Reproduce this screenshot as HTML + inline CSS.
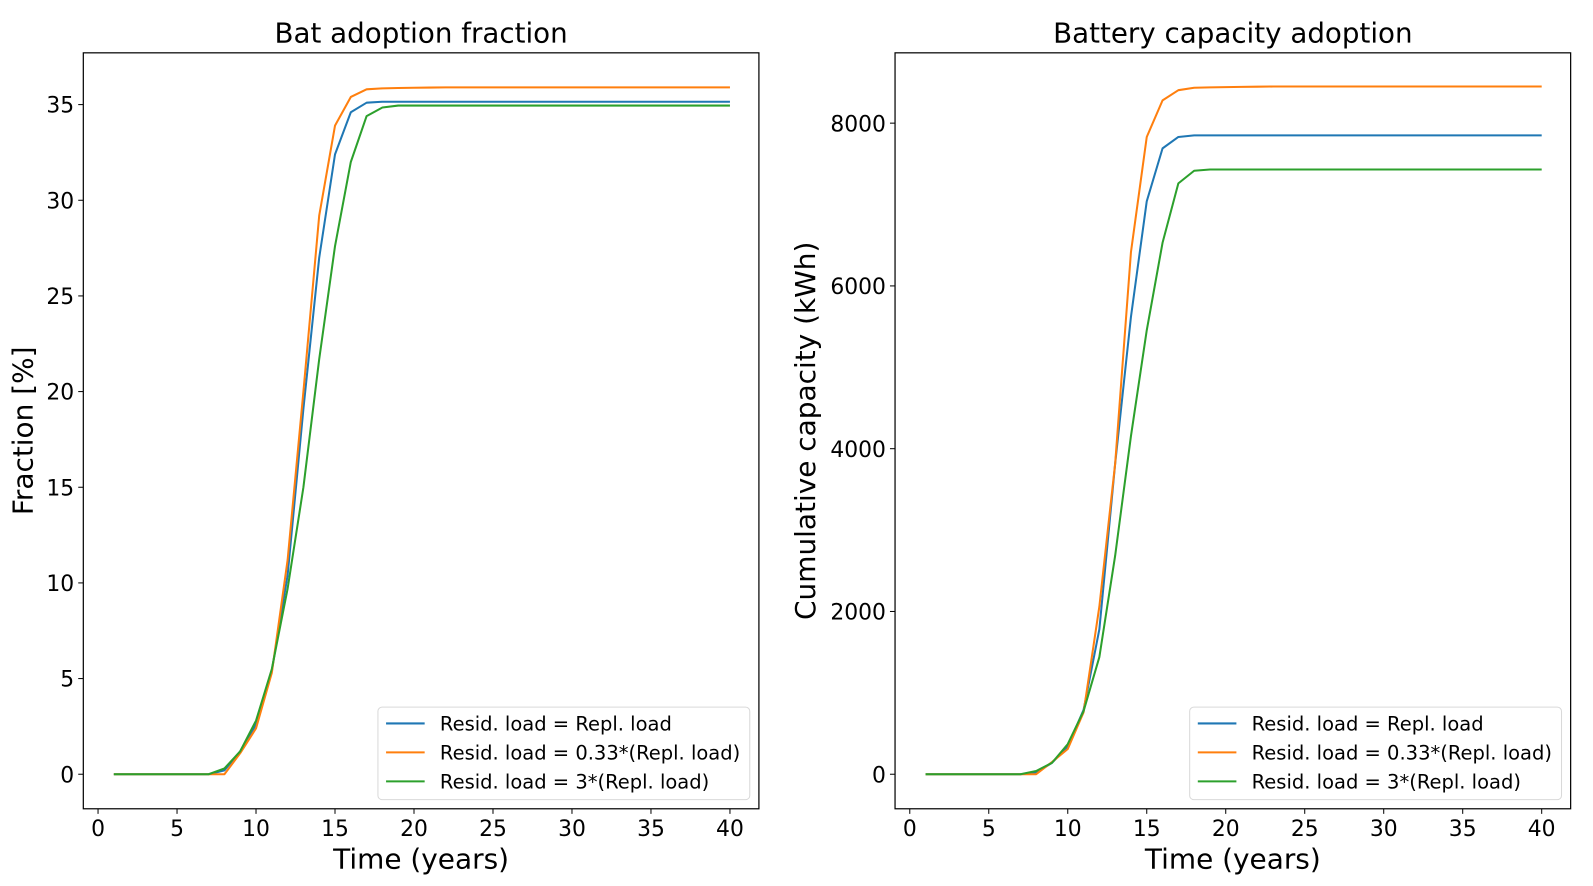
<!DOCTYPE html>
<html><head><meta charset="utf-8"><style>
body{margin:0;background:#fff;}
svg{display:block;font-family:"DejaVu Sans","Liberation Sans",sans-serif;}
</style></head><body>
<svg id="chart" width="1593" height="886" viewBox="0 0 1568 872" preserveAspectRatio="none" xmlns="http://www.w3.org/2000/svg"></svg>
<script>
const years = [];
for (let t = 1; t <= 40; t++) years.push(t);
const fracBlue   = [0,0,0,0,0,0,0,0.2,1.2,2.6,5.4,10.4,19.1,27.0,32.4,34.6,35.1,35.15,35.15,35.15,35.15,35.15,35.15,35.15,35.15,35.15,35.15,35.15,35.15,35.15,35.15,35.15,35.15,35.15,35.15,35.15,35.15,35.15,35.15,35.15];
const fracOrange = [0,0,0,0,0,0,0,0,1.1,2.4,5.3,11.2,20.0,29.2,33.9,35.4,35.8,35.85,35.87,35.88,35.89,35.9,35.9,35.9,35.9,35.9,35.9,35.9,35.9,35.9,35.9,35.9,35.9,35.9,35.9,35.9,35.9,35.9,35.9,35.9];
const fracGreen  = [0,0,0,0,0,0,0,0.3,1.2,2.8,5.5,9.7,15.0,21.7,27.6,32.0,34.4,34.85,34.95,34.95,34.95,34.95,34.95,34.95,34.95,34.95,34.95,34.95,34.95,34.95,34.95,34.95,34.95,34.95,34.95,34.95,34.95,34.95,34.95,34.95];
const capBlue   = [0,0,0,0,0,0,0,20,140,340,790,1780,3815,5620,7040,7690,7830,7850,7850,7850,7850,7850,7850,7850,7850,7850,7850,7850,7850,7850,7850,7850,7850,7850,7850,7850,7850,7850,7850,7850];
const capOrange = [0,0,0,0,0,0,0,0,150,310,760,2060,3815,6415,7830,8280,8405,8435,8440,8443,8446,8448,8450,8450,8450,8450,8450,8450,8450,8450,8450,8450,8450,8450,8450,8450,8450,8450,8450,8450];
const capGreen  = [0,0,0,0,0,0,0,40,140,370,775,1440,2685,4155,5455,6530,7260,7415,7430,7430,7430,7430,7430,7430,7430,7430,7430,7430,7430,7430,7430,7430,7430,7430,7430,7430,7430,7430,7430,7430];
const xTicks = [0,5,10,15,20,25,30,35,40];
const fracTicks = [0,5,10,15,20,25,30,35];
const capTicks = [0,2000,4000,6000,8000];
const legendLabels = ["Resid. load = Repl. load","Resid. load = 0.33*(Repl. load)","Resid. load = 3*(Repl. load)"];
const colors = ["#1f77b4","#ff7f0e","#2ca02c"];

const NS = "http://www.w3.org/2000/svg";
const svg = document.getElementById("chart");
function mk(tag, attrs, parent, text){
  const e = document.createElementNS(NS, tag);
  for (const k in attrs) e.setAttribute(k, attrs[k]);
  if (text !== undefined) e.textContent = text;
  (parent||svg).appendChild(e);
  return e;
}

function panel(opt){
  const g = mk("g", {});
  
  
  const L = opt.left, R = opt.right, T = 52, B = 796;
  const xS = v => opt.x0 + (v/40)*(opt.x40 - opt.x0);
  const yS = v => 762 - v*opt.yk;
  opt.series.forEach((s, i) => {
    const d = years.map((t, j) => (j ? "L" : "M") + xS(t).toFixed(2) + "," + yS(s[j]).toFixed(2)).join(" ");
    const p = mk("path", {d: d, fill: "none", stroke: colors[i], "stroke-width": 2, "stroke-linejoin": "round"}, g);
    
    
  });
  const f = mk("rect", {x: L, y: T, width: R-L, height: B-T, fill: "none", stroke: "#000", "stroke-width": 1.2}, g);
  
  
  xTicks.forEach(v => {
    const x = xS(v);
    mk("line", {x1: x, x2: x, y1: B, y2: B+5, stroke: "#000", "stroke-width": 1}, g);
    const t = mk("text", {x: x, y: B+27, "font-size": 21.5, "text-anchor": "middle", fill: "#000"}, g, String(v));
    
    
  });
  opt.yTicks.forEach(v => {
    const y = yS(v);
    mk("line", {x1: L-5, x2: L, y1: y, y2: y, stroke: "#000", "stroke-width": 1}, g);
    const t = mk("text", {x: L-9, y: y+8, "font-size": 21.5, "text-anchor": "end", fill: "#000"}, g, String(v));
    
    
  });
  const title = mk("text", {x: (L+R)/2, y: 42, "font-size": 27.3, "text-anchor": "middle", fill: "#000"}, g, opt.title);
  
  
  const xl = mk("text", {x: (L+R)/2, y: 855, "font-size": 27.5, "text-anchor": "middle", fill: "#000"}, g, "Time (years)");
  
  
  const yl = mk("text", {x: 0, y: 0, "font-size": 27.5, "text-anchor": "middle", fill: "#000", transform: "translate(" + opt.ylx + "," + (T+B)/2 + ") rotate(-90)"}, g, opt.ylabel);
  
  
  const lg = mk("g", {}, g);
  
  
  const lx = opt.legX;
  mk("rect", {x: lx, y: 696, width: 366, height: 91, rx: 4, fill: "#fff", stroke: "#d9d9d9", "stroke-width": 1}, lg);
  legendLabels.forEach((lab, i) => {
    const y = 712 + i*28.5;
    const e = mk("g", {}, lg);
    
    
    mk("line", {x1: lx+8, x2: lx+46, y1: y, y2: y, stroke: colors[i], "stroke-width": 2}, e);
    mk("text", {x: lx+61, y: y+7, "font-size": 19.2, fill: "#000"}, e, lab);
  });
}

panel({name: "fraction-panel", left: 82, right: 747, x0: 96.5, x40: 718.5, yk: 18.83, yTicks: fracTicks,
  series: [fracBlue, fracOrange, fracGreen], title: "Bat adoption fraction", ylabel: "Fraction [%]", ylx: 32, legX: 372});
panel({name: "capacity-panel", left: 881, right: 1546, x0: 895.5, x40: 1517.5, yk: 0.0801, yTicks: capTicks,
  series: [capBlue, capOrange, capGreen], title: "Battery capacity adoption", ylabel: "Cumulative capacity (kWh)", ylx: 802, legX: 1171});
</script>
</body></html>
